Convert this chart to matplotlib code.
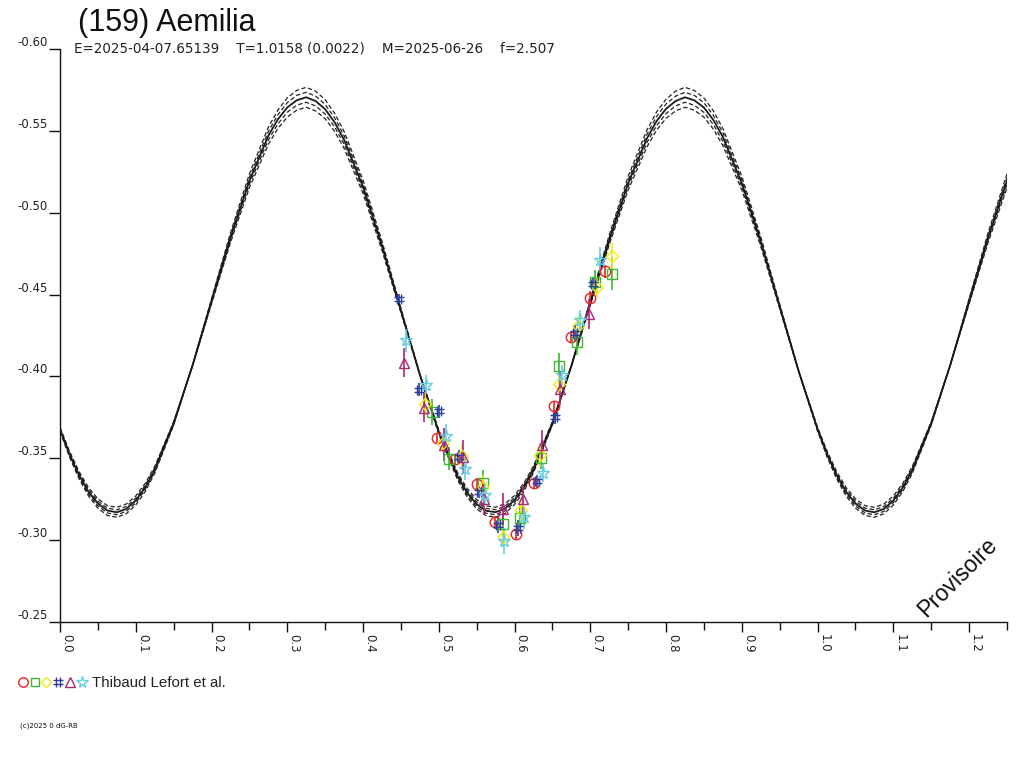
import matplotlib
matplotlib.use("Agg")
import matplotlib.pyplot as plt
from matplotlib.lines import Line2D
from matplotlib.path import Path
from matplotlib.legend_handler import HandlerTuple
import numpy as np

plt.rcParams['axes.unicode_minus'] = False

# ---------------- data ----------------
title = "(159) Aemilia"
subtitle = "E=2025-04-07.65139    T=1.0158 (0.0022)    M=2025-06-26    f=2.507"
observer = "Thibaud Lefort et al."
copyright_txt = "(c)2025 0 dG-RB"
stamp = "Provisoire"

# fitted light curve (phase, magnitude)
curve_phase = [0.0000, 0.0125, 0.0250, 0.0375, 0.0500, 0.0625, 0.0750, 0.0875, 0.1000, 0.1125,
               0.1250, 0.1500, 0.1750, 0.2000, 0.2250, 0.2500, 0.2750, 0.2875, 0.3000, 0.3125,
               0.3250, 0.3375, 0.3500, 0.3625, 0.3750, 0.4000, 0.4250, 0.4500, 0.4750, 0.5000,
               0.5250, 0.5375, 0.5500, 0.5625, 0.5750, 0.5875, 0.6000, 0.6125, 0.6250, 0.6500,
               0.6750, 0.7000, 0.7250, 0.7500, 0.7750, 0.7875, 0.8000, 0.8125, 0.8250, 0.8375,
               0.8500, 0.8625, 0.8750, 0.9000, 0.9250, 0.9500, 0.9750, 1.0000, 1.0125, 1.0250,
               1.0375, 1.0500, 1.0625, 1.0750, 1.0875, 1.1000, 1.1125, 1.1250, 1.1500, 1.1750,
               1.2000, 1.2250, 1.2500]
curve_mag = [-0.3677, -0.3526, -0.3398, -0.3296, -0.3224, -0.3181, -0.3170, -0.3191, -0.3242, -0.3322,
             -0.3429, -0.3713, -0.4068, -0.4459, -0.4847, -0.5195, -0.5470, -0.5570, -0.5643, -0.5687,
             -0.5705, -0.5682, -0.5632, -0.5552, -0.5445, -0.5158, -0.4798, -0.4403, -0.4011, -0.3660,
             -0.3388, -0.3289, -0.3219, -0.3179, -0.3171, -0.3193, -0.3245, -0.3325, -0.3432, -0.3714,
             -0.4065, -0.4451, -0.4835, -0.5181, -0.5456, -0.5560, -0.5635, -0.5682, -0.5705, -0.5686,
             -0.5642, -0.5566, -0.5462, -0.5180, -0.4823, -0.4427, -0.4032, -0.3677, -0.3526, -0.3398,
             -0.3296, -0.3224, -0.3181, -0.3170, -0.3191, -0.3242, -0.3322, -0.3429, -0.3713, -0.4068,
             -0.4459, -0.4847, -0.5195]
# uncertainty envelope: amplitude factors about a pivot level
env_pivot = -0.4013
env_factors = [1.036, 1.018, 0.982, 0.964]

# observations (phase, magnitude, error), one list per symbol
circ_ph = [0.4980, 0.5210, 0.5508, 0.5748, 0.6019, 0.6261, 0.6514, 0.6751, 0.6996, 0.7191]
circ_mag = [-0.3625, -0.3497, -0.3340, -0.3108, -0.3035, -0.3350, -0.3818, -0.4240, -0.4482, -0.4643]
circ_err = [0.003, 0.003, 0.004, 0.004, 0.003, 0.003, 0.003, 0.003, 0.004, 0.004]

sq_ph = [0.4906, 0.5135, 0.5583, 0.5841, 0.6076, 0.6349, 0.6583, 0.6824, 0.7068, 0.7286]
sq_mag = [-0.3785, -0.3497, -0.3350, -0.3101, -0.3137, -0.3503, -0.4065, -0.4212, -0.4579, -0.4627]
sq_err = [0.008, 0.007, 0.008, 0.008, 0.008, 0.007, 0.008, 0.008, 0.007, 0.010]

dia_ph = [0.4814, 0.5059, 0.5311, 0.5587, 0.5851, 0.6085, 0.6338, 0.6593, 0.6837, 0.7082, 0.7282]
dia_mag = [-0.3834, -0.3595, -0.3515, -0.3326, -0.3017, -0.3183, -0.3521, -0.3954, -0.4311, -0.4547, -0.4737]
dia_err = [0.007, 0.006, 0.007, 0.007, 0.006, 0.007, 0.007, 0.006, 0.006, 0.006, 0.008]

hash_ph = [0.4475, 0.4743, 0.5003, 0.5267, 0.5531, 0.5785, 0.6049, 0.6294, 0.6534, 0.6795, 0.7039]
hash_mag = [-0.4476, -0.3919, -0.3786, -0.3509, -0.3297, -0.3093, -0.3076, -0.3359, -0.3750, -0.4267, -0.4566]
hash_err = [0.003, 0.004, 0.004, 0.004, 0.004, 0.005, 0.005, 0.004, 0.004, 0.005, 0.004]

tri_ph = [0.4541, 0.4805, 0.5065, 0.5323, 0.5593, 0.5851, 0.6118, 0.6356, 0.6606, 0.6985]
tri_mag = [-0.4084, -0.3809, -0.3583, -0.3509, -0.3252, -0.3191, -0.3252, -0.3583, -0.3925, -0.4380]
tri_err = [0.009, 0.009, 0.010, 0.010, 0.009, 0.010, 0.009, 0.009, 0.010, 0.009]

star_ph = [0.4563, 0.4827, 0.5091, 0.5346, 0.5610, 0.5856, 0.6127, 0.6371, 0.6622, 0.6870, 0.7125]
star_mag = [-0.4222, -0.3950, -0.3638, -0.3436, -0.3277, -0.2995, -0.3139, -0.3413, -0.4009, -0.4343, -0.4712]
star_err = [0.007, 0.006, 0.007, 0.007, 0.007, 0.008, 0.007, 0.006, 0.006, 0.006, 0.008]

xticks_major = [0.0, 0.1, 0.2, 0.3, 0.4, 0.5, 0.6, 0.7, 0.8, 0.9, 1.0, 1.1, 1.2]
xtick_labels = ["0.0", "0.1", "0.2", "0.3", "0.4", "0.5", "0.6", "0.7", "0.8", "0.9", "1.0", "1.1", "1.2"]
xticks_minor = [0.05, 0.15, 0.25, 0.35, 0.45, 0.55, 0.65, 0.75, 0.85, 0.95, 1.05, 1.15, 1.25]
yticks = [-0.60, -0.55, -0.50, -0.45, -0.40, -0.35, -0.30, -0.25]
ytick_labels = ["-0.60", "-0.55", "-0.50", "-0.45", "-0.40", "-0.35", "-0.30", "-0.25"]

# ---------------- figure ----------------
W, H = 1024, 768
fig = plt.figure(figsize=(W / 100, H / 100), dpi=100)
fig.patch.set_facecolor("white")
ax = fig.add_axes([60 / W, 1 - 622 / H, 947 / W, 573 / H])
ax.set_xlim(0, 1.25)
ax.set_ylim(-0.25, -0.60)

for s in ("top", "right"):
    ax.spines[s].set_visible(False)
for s in ("left", "bottom"):
    ax.spines[s].set_color("#111111")
    ax.spines[s].set_linewidth(1.0)

cp = np.array(curve_phase)
cm = np.array(curve_mag)
for k in env_factors:
    ax.plot(cp, env_pivot + k * (cm - env_pivot), color="#222222", lw=0.9,
            dashes=(3.5, 2.0), zorder=2, solid_joinstyle="round")
ax.plot(cp, cm, color="#1a1a1a", lw=1.3, zorder=3, solid_joinstyle="round")

hash_marker = Path([(-0.35, -1), (-0.35, 1), (0.35, -1), (0.35, 1),
                    (-1, -0.35), (1, -0.35), (-1, 0.35), (1, 0.35)],
                   [Path.MOVETO, Path.LINETO, Path.MOVETO, Path.LINETO,
                    Path.MOVETO, Path.LINETO, Path.MOVETO, Path.LINETO])

series = [
    (circ_ph, circ_mag, circ_err, "o", "#ee2020", 7.5),
    (sq_ph, sq_mag, sq_err, "s", "#3cb832", 6.5),
    (dia_ph, dia_mag, dia_err, "D", "#f0ec10", 6.0),
    (hash_ph, hash_mag, hash_err, hash_marker, "#2d3f9c", 7.5),
    (tri_ph, tri_mag, tri_err, "^", "#a8287a", 7.5),
    (star_ph, star_mag, star_err, "*", "#66cce0", 9.5),
]
handles = []
for ph, mg, er, mk, col, ms in series:
    ax.errorbar(ph, mg, yerr=er, fmt="none", ecolor=col, elinewidth=1.2, capsize=0, zorder=4)
    ax.plot(ph, mg, ls="none", marker=mk, ms=ms, mfc="none", mec=col, mew=1.0, zorder=5)
    handles.append(Line2D([], [], ls="none", marker=mk, ms=ms * 0.9, mfc="none", mec=col, mew=1.0))

# ticks
ax.set_xticks(xticks_major)
ax.set_xticklabels(xtick_labels, rotation=-90, ha="left", va="top",
                   fontsize=8.5, family="DejaVu Sans", color="#222222")
ax.set_xticks(xticks_minor, minor=True)
ax.tick_params(axis="x", which="major", direction="out", length=7.5, width=1, pad=1.5, color="#111111")
ax.tick_params(axis="x", which="minor", direction="out", length=6, width=1, color="#111111")
ax.set_yticks(yticks)
ax.set_yticklabels(ytick_labels, fontsize=8.5, family="DejaVu Sans", color="#222222", va="bottom")
ax.tick_params(axis="y", which="major", direction="out", length=8, width=1, pad=1, color="#111111")

# texts
fig.text(78 / W, 1 - 31 / H, title, fontsize=22, family="Liberation Sans",
         color="#111111", ha="left", va="baseline")
fig.text(74 / W, 1 - 52.5 / H, subtitle, fontsize=9.75, family="DejaVu Sans",
         color="#222222", ha="left", va="baseline")
fig.text(958 / W, 1 - 577 / H, stamp, fontsize=16.5, family="Liberation Sans",
         rotation=45, ha="center", va="center", color="#111111")
fig.text(20 / W, 1 - 726 / H, copyright_txt, fontsize=5, family="DejaVu Sans",
         ha="left", va="center", color="#111111")

leg = fig.legend([tuple(handles)], [observer],
                 handler_map={tuple: HandlerTuple(ndivide=None, pad=0)},
                 loc="center left", bbox_to_anchor=(17 / W, 1 - 683 / H),
                 frameon=False, borderpad=0, borderaxespad=0, handlelength=4.7,
                 handletextpad=0.3, prop={"family": "Liberation Sans", "size": 10.8})
for t in leg.get_texts():
    t.set_color("#222222")

fig.savefig("out.png", dpi=100, facecolor="white")
